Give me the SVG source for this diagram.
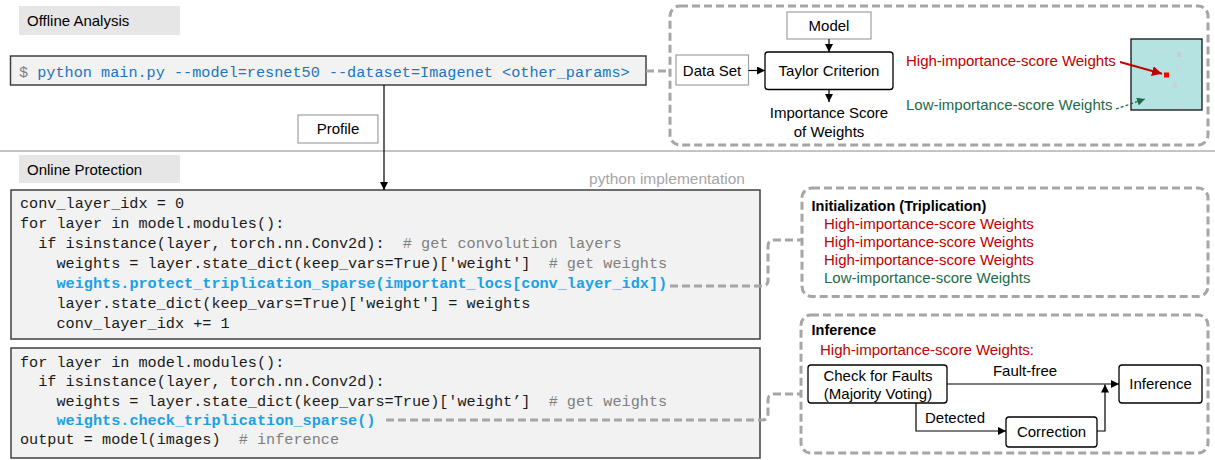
<svg xmlns="http://www.w3.org/2000/svg" width="1215" height="460" viewBox="0 0 1215 460">
<defs>
<style>
.lbl{font-family:"Liberation Sans",Arial,sans-serif;font-size:15px;fill:#000}
.mid{text-anchor:middle}
.bold{font-weight:bold}
.red{fill:#c00000}
.grn{fill:#1c6b48}
.code{font-family:"Liberation Mono","DejaVu Sans Mono",monospace;font-size:15.2px;fill:#1a1a1a;white-space:pre}
.cm{fill:#7f7f7f}
.hl{fill:#1aa1e6;font-weight:bold}
.cmd{fill:#2274bd}
.tag{fill:#e7e6e6}
.codebox{fill:#f2f2f2;stroke:#404040;stroke-width:1.5}
.gbox{fill:#fff;stroke:#a0a0a0;stroke-width:1.2}
.bbox{fill:#fff;stroke:#000;stroke-width:1.3}
.dash{fill:none;stroke:#a6a6a6;stroke-width:3;stroke-dasharray:8 4}
.arr{fill:none;stroke:#000;stroke-width:1.2}
</style>
<marker id="ah" viewBox="0 0 10 10" refX="10" refY="5" markerWidth="8" markerHeight="8" markerUnits="userSpaceOnUse" orient="auto">
<path d="M0,0 L10,5 L0,10 Z" fill="#000"/>
</marker>
<marker id="ahr" viewBox="0 0 10 10" refX="10" refY="5" markerWidth="10" markerHeight="10" markerUnits="userSpaceOnUse" orient="auto">
<path d="M0,0 L10,5 L0,10 Z" fill="#c00000"/>
</marker>
<marker id="ahg" viewBox="0 0 10 10" refX="10" refY="5" markerWidth="8" markerHeight="8" markerUnits="userSpaceOnUse" orient="auto">
<path d="M0,0 L10,5 L0,10 Z" fill="#1c6b48"/>
</marker>
</defs>
<rect width="1215" height="460" fill="#fff"/>

<g id="offline-label">
<rect class="tag" x="19" y="6" width="161" height="29"/>
<text class="lbl" x="27" y="26">Offline Analysis</text>
</g>
<line x1="0" y1="151" x2="1215" y2="151" stroke="#b0b0b0" stroke-width="1.6"/>
<g id="online-label">
<rect class="tag" x="19" y="155" width="161" height="28"/>
<text class="lbl" x="27" y="175">Online Protection</text>
</g>

<g id="command">
<rect class="codebox" x="10.5" y="56" width="635.5" height="29"/>
<text class="code" x="19" y="76.5" xml:space="preserve"><tspan class="cm">$</tspan><tspan class="cmd"> python main.py --model=resnet50 --dataset=Imagenet &lt;other_params&gt;</tspan></text>
</g>

<g id="profile">
<rect class="gbox" x="298" y="115" width="80" height="28"/>
<text class="lbl mid" x="338" y="134">Profile</text>
</g>

<g id="offline-box">
<rect class="dash" x="670" y="6" width="538" height="139" rx="10"/>
</g>
<g id="model">
<rect class="gbox" x="787" y="12" width="84" height="27"/>
<text class="lbl mid" x="829" y="31">Model</text>
</g>
<g id="dataset">
<rect class="gbox" x="676" y="55" width="72.5" height="30"/>
<text class="lbl mid" x="712" y="75.5">Data Set</text>
</g>
<g id="taylor">
<rect class="bbox" x="765" y="52" width="128" height="37.5" rx="3"/>
<text class="lbl mid" x="829" y="76">Taylor Criterion</text>
</g>
<g id="importance">
<text class="lbl mid" x="829" y="118">Importance Score</text>
<text class="lbl mid" x="829" y="137">of Weights</text>
</g>
<g id="weights-legend">
<text class="lbl red" x="906" y="66">High-importance-score Weights</text>
<text class="lbl grn" x="906" y="110">Low-importance-score Weights</text>
</g>
<g id="heatmap">
<rect x="1131" y="39" width="71" height="71" fill="#b4e3e1" stroke="#000" stroke-width="1.2"/>
<rect x="1177" y="52" width="4" height="5" fill="#c9cdcd"/>
<rect x="1176" y="66" width="4" height="6" fill="#bedcdb"/>
<rect x="1173" y="83" width="4" height="5" fill="#cbd0d0"/>
<rect x="1175" y="104" width="5" height="5" fill="#c3dcdb"/>
<rect x="1160" y="48" width="4" height="4" fill="#bde0de"/>
<rect x="1164" y="72.5" width="5" height="5" fill="#ff0000"/>
</g>

<g id="code-init">
<rect class="codebox" x="11" y="190" width="749" height="149"/>
<text class="lbl" x="745" y="184" text-anchor="end" style="fill:#a6a6a6;font-size:15.5px">python implementation</text>
<text class="code" x="20" y="208" xml:space="preserve">conv_layer_idx = 0</text>
<text class="code" x="20" y="228" xml:space="preserve">for layer in model.modules():</text>
<text class="code" x="20" y="248" xml:space="preserve">  if isinstance(layer, torch.nn.Conv2d):  <tspan class="cm"># get convolution layers</tspan></text>
<text class="code" x="20" y="268" xml:space="preserve">    weights = layer.state_dict(keep_vars=True)['weight']  <tspan class="cm"># get weights</tspan></text>
<text class="code" x="20" y="288" xml:space="preserve">    <tspan class="hl">weights.protect_triplication_sparse(important_locs[conv_layer_idx])</tspan></text>
<text class="code" x="20" y="308" xml:space="preserve">    layer.state_dict(keep_vars=True)['weight'] = weights</text>
<text class="code" x="20" y="328" xml:space="preserve">    conv_layer_idx += 1</text>
</g>

<g id="code-check">
<rect class="codebox" x="11" y="348" width="749" height="110"/>
<text class="code" x="20" y="367" xml:space="preserve">for layer in model.modules():</text>
<text class="code" x="20" y="386.3" xml:space="preserve">  if isinstance(layer, torch.nn.Conv2d):</text>
<text class="code" x="20" y="405.6" xml:space="preserve">    weights = layer.state_dict(keep_vars=True)['weight’]  <tspan class="cm"># get weights</tspan></text>
<text class="code" x="20" y="424.9" xml:space="preserve">    <tspan class="hl">weights.check_triplication_sparse()</tspan></text>
<text class="code" x="20" y="444.2" xml:space="preserve">output = model(images)  <tspan class="cm"># inference</tspan></text>
</g>

<g id="init-box">
<rect class="dash" x="802" y="188" width="406" height="108.5" rx="10"/>
<text class="lbl bold" x="811.5" y="211" style="font-size:14.5px">Initialization (Triplication)</text>
<text class="lbl red" x="824" y="228.5">High-importance-score Weights</text>
<text class="lbl red" x="824" y="246.5">High-importance-score Weights</text>
<text class="lbl red" x="824" y="264.5">High-importance-score Weights</text>
<text class="lbl grn" x="824" y="282.5">Low-importance-score Weights</text>
</g>

<g id="inference-box">
<rect class="dash" x="801" y="315" width="407" height="138" rx="10"/>
<text class="lbl bold" x="811.5" y="335" style="font-size:14.5px">Inference</text>
<text class="lbl red" x="820" y="354.5">High-importance-score Weights:</text>
</g>
<g id="check">
<rect class="bbox" x="808" y="365" width="139" height="38" rx="3"/>
<text class="lbl mid" x="878" y="381">Check for Faults</text>
<text class="lbl mid" x="878" y="398.5">(Majority Voting)</text>
</g>
<g id="inference">
<rect class="bbox" x="1119" y="365" width="83" height="38" rx="3"/>
<text class="lbl mid" x="1160.5" y="389">Inference</text>
</g>
<g id="correction">
<rect class="bbox" x="1006" y="417" width="91" height="30" rx="3"/>
<text class="lbl mid" x="1051.5" y="437">Correction</text>
</g>

<g id="connectors">
<path class="dash" d="M646,71 H670"/>
<path class="arr" d="M384,85 V190" marker-end="url(#ah)"/>
<path class="arr" d="M829,39 V52" marker-end="url(#ah)"/>
<path class="arr" d="M748.5,70.5 H765" marker-end="url(#ah)"/>
<path class="arr" d="M829,89.5 V102" marker-end="url(#ah)"/>
<path d="M1120,62 L1162,73.8" stroke="#c00000" stroke-width="2" fill="none" marker-end="url(#ahr)"/>
<path d="M1116,109 L1145,99" stroke="#1c6b48" stroke-width="1.3" stroke-dasharray="3 2" fill="none" marker-end="url(#ahg)"/>
<path class="dash" d="M670,286 H762 Q768,286 768,280 V246 Q768,240 774,240 H802"/>
<path class="dash" d="M386,420 H762 Q768,420 768,414 V400 Q768,394 774,394 H801"/>
<path class="arr" d="M947,384 H1119" marker-end="url(#ah)"/>
<path class="arr" d="M916,403 V431 H1006" marker-end="url(#ah)"/>
<path class="arr" d="M1097,431 H1105 V384.5" marker-end="url(#ah)"/>
<text class="lbl mid" x="1025" y="376">Fault-free</text>
<text class="lbl" x="925" y="422.5">Detected</text>
</g>
</svg>
